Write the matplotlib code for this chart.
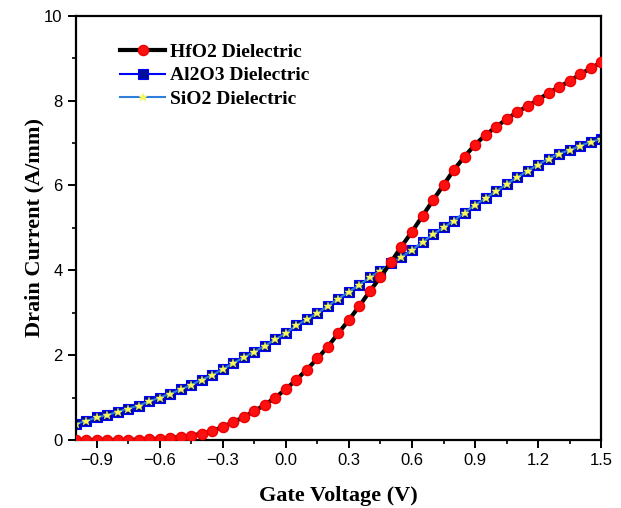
import numpy as np
import matplotlib
matplotlib.use("Agg")
import matplotlib.pyplot as plt
from matplotlib.ticker import MultipleLocator

# Gate voltage sweep (V)
gate_voltage = [round(-1.0 + 0.05 * i, 2) for i in range(51)]

hfo2 = [0.00, 0.00, 0.00, 0.00, 0.00, 0.00, 0.01, 0.02, 0.03, 0.05,
        0.07, 0.10, 0.15, 0.21, 0.31, 0.42, 0.54, 0.68, 0.83, 1.00,
        1.20, 1.42, 1.66, 1.92, 2.20, 2.52, 2.83, 3.16, 3.51, 3.84,
        4.19, 4.56, 4.91, 5.28, 5.65, 6.01, 6.37, 6.68, 6.96, 7.19,
        7.38, 7.56, 7.73, 7.87, 8.02, 8.18, 8.32, 8.46, 8.62, 8.76,
        8.90]

al2o3 = [0.38, 0.45, 0.53, 0.59, 0.66, 0.74, 0.81, 0.91, 1.00, 1.09,
         1.19, 1.30, 1.42, 1.53, 1.67, 1.81, 1.95, 2.08, 2.22, 2.37,
         2.52, 2.70, 2.84, 2.99, 3.16, 3.33, 3.49, 3.66, 3.83, 3.99,
         4.16, 4.31, 4.48, 4.66, 4.85, 5.01, 5.17, 5.36, 5.54, 5.70,
         5.86, 6.03, 6.19, 6.34, 6.49, 6.63, 6.75, 6.83, 6.93, 7.03,
         7.09]

sio2 = [0.38, 0.45, 0.53, 0.59, 0.66, 0.74, 0.81, 0.91, 1.00, 1.09,
        1.19, 1.30, 1.42, 1.53, 1.67, 1.81, 1.95, 2.08, 2.22, 2.37,
        2.52, 2.70, 2.84, 2.99, 3.16, 3.33, 3.49, 3.66, 3.83, 3.99,
        4.16, 4.31, 4.48, 4.66, 4.85, 5.01, 5.17, 5.36, 5.54, 5.70,
        5.86, 6.03, 6.19, 6.34, 6.49, 6.63, 6.75, 6.83, 6.93, 7.03,
        7.09]

x_ticks = [-0.9, -0.6, -0.3, 0.0, 0.3, 0.6, 0.9, 1.2, 1.5]
x_tick_labels = ["\u22120.9", "\u22120.6", "\u22120.3", "0.0", "0.3", "0.6", "0.9", "1.2", "1.5"]
y_ticks = [0, 2, 4, 6, 8, 10]

fig = plt.figure(figsize=(6.21, 5.08), dpi=100)
ax = fig.add_axes([0.122, 0.134, 0.846, 0.835])

ax.plot(gate_voltage, hfo2, color="black", lw=3.0, marker="o", ms=7.3,
        mfc="#ff1010", mec="#ee0000", label="HfO2 Dielectric", zorder=3)
ax.plot(gate_voltage, al2o3, color="#0000ff", lw=1.5, marker="s", ms=6.8,
        mfc="#000c9c", mec="#0000ff", mew=0.8, label="Al2O3 Dielectric", zorder=2)
ax.plot(gate_voltage, sio2, color="#2f7fd8", lw=1.5, marker="*", ms=6.3,
        mfc="#f8f860", mec="#f0f040", mew=0.3, label="SiO2 Dielectric", zorder=2.5)

ax.set_xlim(-1.0, 1.5)
ax.set_ylim(0, 10)
ax.set_xticks(x_ticks)
ax.set_xticklabels(x_tick_labels)
ax.set_yticks(y_ticks)
ax.xaxis.set_minor_locator(MultipleLocator(0.15))
ax.yaxis.set_minor_locator(MultipleLocator(1))

for s in ax.spines.values():
    s.set_linewidth(1.6)
    s.set_color("black")

ax.tick_params(which="major", direction="out", length=6, width=1.4,
               labelsize=12, top=False, right=False)
ax.tick_params(which="minor", direction="out", length=3, width=1.2,
               top=False, right=False)
for lab in ax.get_xticklabels() + ax.get_yticklabels():
    lab.set_fontfamily("Liberation Sans")

ax.set_xlabel("Gate Voltage (V)", fontsize=16, fontweight="bold",
              family="Liberation Serif", labelpad=13)
ax.set_ylabel("Drain Current (A/mm)", fontsize=16, fontweight="bold",
              family="Liberation Serif", labelpad=0)

leg = ax.legend(loc="upper left", bbox_to_anchor=(0.085, 0.935), frameon=False,
                numpoints=1, handlelength=2.3, handletextpad=0.25,
                labelspacing=0.3, borderaxespad=0, borderpad=0,
                prop={"family": "Liberation Serif", "weight": "bold", "size": 14})

fig.savefig("out.png", dpi=100)
